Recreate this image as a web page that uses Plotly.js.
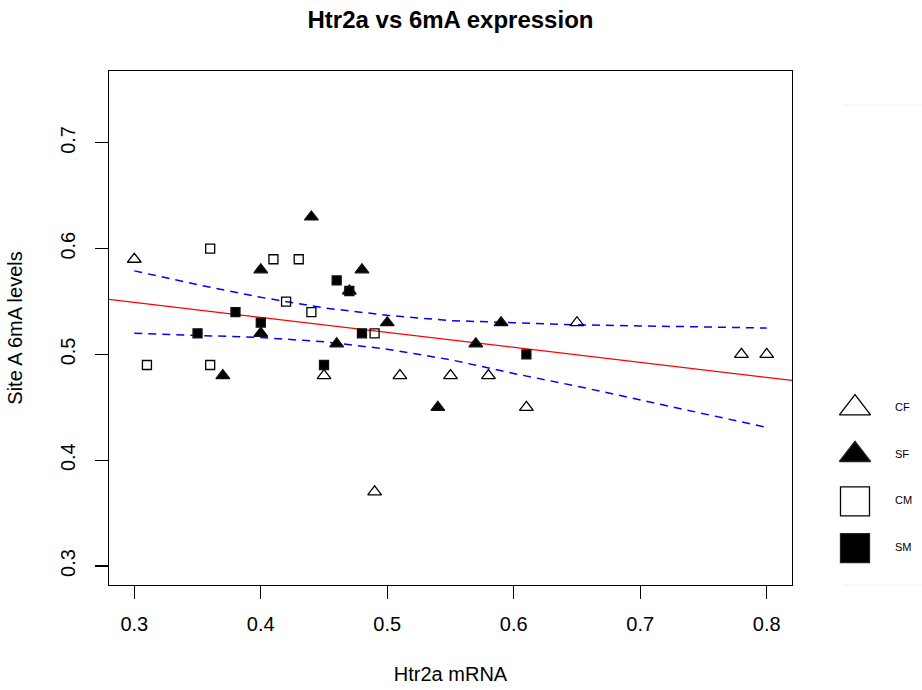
<!DOCTYPE html>
<html>
<head>
<meta charset="utf-8">
<script src="https://cdn.plot.ly/plotly-3.0.1.min.js"></script>
<style>html,body{margin:0;padding:0;background:#fff;}#chart{width:922px;height:690px;}</style>
</head>
<body>
<div id="chart"></div>
<script>
// ---- data ----
const cfX = [0.30, 0.45, 0.49, 0.51, 0.55, 0.58, 0.61, 0.65, 0.78, 0.80];
const cfY = [0.59, 0.48, 0.37, 0.48, 0.48, 0.48, 0.45, 0.53, 0.50, 0.50];

const sfX = [0.37, 0.40, 0.40, 0.44, 0.46, 0.47, 0.48, 0.50, 0.54, 0.57, 0.59];
const sfY = [0.48, 0.58, 0.52, 0.63, 0.51, 0.56, 0.58, 0.53, 0.45, 0.51, 0.53];

const cmX = [0.31, 0.36, 0.36, 0.41, 0.42, 0.43, 0.44, 0.49];
const cmY = [0.49, 0.60, 0.49, 0.59, 0.55, 0.59, 0.54, 0.52];

const smX = [0.35, 0.38, 0.40, 0.45, 0.46, 0.47, 0.48, 0.61];
const smY = [0.52, 0.54, 0.53, 0.49, 0.57, 0.56, 0.52, 0.50];

// fitted regression line (read at plot edges)
const fitX = [0.28, 0.82];
const fitY = [0.552, 0.4755];

// confidence band (read)
const bandX = [0.30, 0.35, 0.40, 0.45, 0.50, 0.55, 0.60, 0.65, 0.70, 0.75, 0.80];
const bandUpper = [0.579, 0.566, 0.554, 0.544, 0.537, 0.532, 0.530, 0.528, 0.527, 0.526, 0.525];
const bandLower = [0.520, 0.518, 0.516, 0.512, 0.505, 0.495, 0.482, 0.470, 0.457, 0.444, 0.431];

const xTicks = [0.3, 0.4, 0.5, 0.6, 0.7, 0.8];
const yTicks = [0.3, 0.4, 0.5, 0.6, 0.7];

const groupNames = ['CF', 'SF', 'CM', 'SM'];
const groupSymbols = ['triangle-up-open', 'triangle-up', 'square-open', 'square'];

// ---- figure ----
const font = 'Liberation Sans, Arial, Helvetica, sans-serif';
const W = 922, H = 690;
const mL = 109, mR = 0, mT = 71, mB = 105;
const plotW = W - mL - mR;
const mainRightPx = 792;
const legLeftPx = 843;
const xDomEnd = (mainRightPx - mL) / plotW;
const legDomStart = (legLeftPx - mL) / plotW;

function pts(x, y, sym, size) {
  return {
    x: x, y: y, type: 'scatter', mode: 'markers', xaxis: 'x', yaxis: 'y',
    marker: {symbol: sym, size: size, color: '#000', line: {color: '#111', width: 1.3}},
    showlegend: false, hoverinfo: 'skip'
  };
}

const traces = [
  {x: fitX, y: fitY, type: 'scatter', mode: 'lines', line: {color: '#ff0000', width: 1.3},
   showlegend: false, hoverinfo: 'skip'},
  {x: bandX, y: bandUpper, type: 'scatter', mode: 'lines', line: {color: '#0000ff', width: 1.5, dash: '8px,6px'},
   showlegend: false, hoverinfo: 'skip'},
  {x: bandX, y: bandLower, type: 'scatter', mode: 'lines', line: {color: '#0000ff', width: 1.5, dash: '8px,6px'},
   showlegend: false, hoverinfo: 'skip'},
  pts(cfX, cfY, groupSymbols[0], 12),
  pts(sfX, sfY, groupSymbols[1], 12),
  pts(cmX, cmY, groupSymbols[2], 9),
  pts(smX, smY, groupSymbols[3], 9)
];

// legend drawn on its own small axes
const legIdx = groupNames.map((_, i) => i);
const legSizes = groupSymbols.map(s => s.indexOf('triangle') === 0 ? 27 : 29);
traces.push({
  x: groupNames.map(() => 12), y: legIdx, type: 'scatter', mode: 'markers',
  xaxis: 'x2', yaxis: 'y2', cliponaxis: false,
  marker: {symbol: groupSymbols, size: legSizes, color: '#000', opacity: 1, line: {color: '#222', width: 1.3}},
  showlegend: false, hoverinfo: 'skip'
});
traces.push({
  x: groupNames.map(() => 52), y: legIdx, type: 'scatter', mode: 'text', text: groupNames,
  textposition: 'middle right', textfont: {family: font, size: 11, color: '#000'}, cliponaxis: false,
  xaxis: 'x2', yaxis: 'y2', showlegend: false, hoverinfo: 'skip'
});

const axisCommon = {
  showline: true, mirror: true, linecolor: '#000', linewidth: 1.3,
  ticks: 'outside', ticklen: 13, tickwidth: 1.1, tickcolor: '#000',
  showgrid: false, zeroline: false,
  tickfont: {family: font, size: 20, color: '#000'},
  automargin: false
};

const layout = {
  width: W, height: H,
  margin: {l: mL, r: mR, t: mT, b: mB},
  paper_bgcolor: '#fff', plot_bgcolor: '#fff',
  font: {family: font, color: '#000'},
  title: {text: '<b>Htr2a vs 6mA expression</b>', font: {family: font, size: 24, color: '#000'},
          x: ((mL + mainRightPx) / 2) / W, xref: 'container', xanchor: 'center',
          y: 1 - 20 / H, yref: 'container', yanchor: 'middle'},
  xaxis: Object.assign({}, axisCommon, {
    domain: [0, xDomEnd], range: [0.28, 0.82], tickvals: xTicks, ticktext: xTicks.map(v => v.toFixed(1)),
    ticklabelstandoff: 8,
    title: {text: 'Htr2a mRNA', font: {family: font, size: 20, color: '#000'}, standoff: 32}
  }),
  yaxis: Object.assign({}, axisCommon, {
    domain: [0, 1], range: [0.282, 0.768], tickvals: yTicks, ticktext: yTicks.map(v => v.toFixed(1)),
    tickangle: -90, ticklabelstandoff: 12,
    title: {text: 'Site A 6mA levels', font: {family: font, size: 20, color: '#000'}, standoff: 28}
  }),
  xaxis2: {domain: [legDomStart, 1], range: [0, W - legLeftPx], anchor: 'y2',
           visible: false, fixedrange: true},
  yaxis2: {domain: [0, 1], range: [3.79, -7.22], anchor: 'x2', visible: false, fixedrange: true},
  shapes: [
    {type: 'line', xref: 'x2', yref: 'paper', x0: 0, x1: W - legLeftPx,
     y0: (H - mB - 105) / (H - mT - mB), y1: (H - mB - 105) / (H - mT - mB),
     line: {color: '#eeeeee', width: 1}},
    {type: 'line', xref: 'x2', yref: 'paper', x0: 0, x1: W - legLeftPx,
     y0: 0, y1: 0, line: {color: '#eeeeee', width: 1}}
  ]
};

Plotly.newPlot('chart', traces, layout, {staticPlot: true, displayModeBar: false});
</script>
</body>
</html>
